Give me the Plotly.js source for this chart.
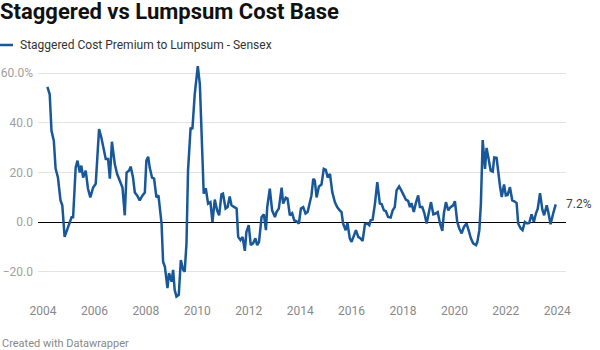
<!DOCTYPE html>
<html>
<head>
<meta charset="utf-8">
<script src="https://cdn.plot.ly/plotly-3.0.1.min.js"></script>
<style>
  html, body { margin: 0; padding: 0; background: #fff; }
  #chart { width: 600px; height: 350px; }
</style>
</head>
<body>
<div id="chart"></div>
<script>
// Decimal-year positions of the traced monthly observations
const years = [
  2004.17, 2004.26, 2004.33, 2004.42, 2004.49, 2004.58, 2004.68, 2004.75, 2004.84, 2004.91,
  2005.04, 2005.11, 2005.17, 2005.27, 2005.34, 2005.43, 2005.49, 2005.56, 2005.66, 2005.75,
  2005.84, 2005.95, 2006.05, 2006.14, 2006.18, 2006.27, 2006.36, 2006.44, 2006.53, 2006.60,
  2006.68, 2006.79, 2006.88, 2006.98, 2007.09, 2007.18, 2007.25, 2007.35, 2007.41, 2007.50,
  2007.57, 2007.66, 2007.76, 2007.87, 2007.96, 2008.02, 2008.09, 2008.15, 2008.24, 2008.32,
  2008.41, 2008.49, 2008.54, 2008.61, 2008.67, 2008.74, 2008.84, 2008.90, 2009.00, 2009.06,
  2009.12, 2009.19, 2009.28, 2009.36, 2009.45, 2009.51, 2009.58, 2009.64, 2009.74, 2009.81,
  2009.90, 2010.02, 2010.10, 2010.16, 2010.25, 2010.33, 2010.42, 2010.51, 2010.59, 2010.68,
  2010.77, 2010.85, 2010.94, 2011.00, 2011.10, 2011.18, 2011.26, 2011.33, 2011.42, 2011.53,
  2011.59, 2011.68, 2011.76, 2011.85, 2011.91, 2012.00, 2012.08, 2012.17, 2012.26, 2012.33,
  2012.40, 2012.50, 2012.59, 2012.67, 2012.72, 2012.82, 2012.91, 2013.02, 2013.08, 2013.17,
  2013.28, 2013.34, 2013.44, 2013.51, 2013.60, 2013.69, 2013.77, 2013.86, 2013.95, 2014.03,
  2014.12, 2014.21, 2014.29, 2014.38, 2014.44, 2014.51, 2014.57, 2014.64, 2014.73, 2014.83,
  2014.92, 2015.00, 2015.07, 2015.16, 2015.25, 2015.35, 2015.44, 2015.54, 2015.61, 2015.67,
  2015.77, 2015.84, 2015.93, 2016.00, 2016.09, 2016.17, 2016.26, 2016.35, 2016.43, 2016.52,
  2016.61, 2016.69, 2016.74, 2016.82, 2016.91, 2017.00, 2017.10, 2017.17, 2017.26, 2017.33,
  2017.42, 2017.52, 2017.60, 2017.68, 2017.75, 2017.85, 2017.95, 2018.04, 2018.11, 2018.20,
  2018.27, 2018.33, 2018.42, 2018.50, 2018.59, 2018.66, 2018.75, 2018.83, 2018.92, 2019.01,
  2019.09, 2019.18, 2019.27, 2019.35, 2019.44, 2019.53, 2019.59, 2019.67, 2019.76, 2019.85,
  2019.95, 2020.02, 2020.11, 2020.19, 2020.28, 2020.37, 2020.47, 2020.56, 2020.64, 2020.73,
  2020.84, 2020.89, 2020.97, 2021.03, 2021.10, 2021.19, 2021.25, 2021.32, 2021.41, 2021.49,
  2021.55, 2021.64, 2021.70, 2021.77, 2021.84, 2021.93, 2022.00, 2022.07, 2022.16, 2022.25,
  2022.33, 2022.42, 2022.48, 2022.58, 2022.65, 2022.74, 2022.83, 2022.91, 2023.00, 2023.09,
  2023.17, 2023.24, 2023.33, 2023.42, 2023.49, 2023.59, 2023.65, 2023.74, 2023.84, 2023.94
];

// Staggered cost premium to lumpsum (%)
const premium = [
  54.5, 51.5, 36.8, 32.8, 21.6, 18.0, 8.8, 6.8, -5.9, -3.9,
  -0.5, 2.0, 2.0, 22.0, 24.8, 20.0, 22.8, 18.0, 20.8, 13.5,
  10.0, 14.0, 15.5, 28.8, 37.5, 34.0, 28.8, 25.5, 25.5, 17.5,
  32.4, 23.5, 19.5, 16.8, 14.0, 2.8, 20.0, 20.8, 22.4, 18.0,
  12.0, 10.8, 8.8, 10.8, 12.0, 24.8, 26.4, 22.0, 18.0, 17.6,
  10.0, 10.8, 6.0, -0.5, -15.9, -17.9, -26.5, -20.5, -23.9, -19.2,
  -27.2, -29.9, -29.2, -15.2, -19.2, -19.9, -8.5, 20.8, 38.1, 37.5,
  51.5, 62.8, 55.5, 39.5, 11.5, 13.7, 7.5, 8.1, 0.1, 9.1,
  4.8, 2.8, 11.2, 11.5, 5.5, 6.1, 10.4, 6.8, 6.1, 5.5,
  -5.9, -7.2, -5.9, -11.5, -3.9, -1.2, -9.2, -8.5, -6.5, -9.2,
  -8.0, 2.1, 3.2, -3.2, 6.1, 13.5, 4.8, 2.1, 4.1, 5.5,
  13.9, 7.5, 9.9, 9.5, 2.8, 3.6, 0.8, 0.4, -0.5, 5.5,
  6.1, 3.5, 4.1, 8.1, 10.8, 17.5, 16.8, 10.0, 14.4, 15.2,
  21.5, 21.1, 18.0, 19.5, 12.1, 8.1, 6.1, 4.8, 4.1, -0.5,
  -3.2, -0.3, -6.5, -7.9, -5.2, -3.2, -5.9, -6.5, -7.5, -0.8,
  -0.5, -1.2, 0.8, 1.1, 7.5, 16.1, 7.5, 7.3, 4.8, 4.5,
  2.1, 1.9, 4.8, 6.1, 12.8, 14.4, 12.5, 10.8, 9.1, 8.6,
  6.1, 7.7, 4.1, 7.7, 10.8, 6.1, 6.1, 3.7, -0.5, 4.1,
  8.1, 3.2, 3.5, 4.1, -0.5, -3.5, 3.5, 8.1, 4.8, 6.1,
  6.8, 8.5, 0.1, -2.5, -4.5, -1.9, -0.5, -3.5, -6.5, -8.5,
  -9.2, -8.0, -3.2, 7.5, 33.1, 21.5, 29.9, 26.1, 20.8, 20.4,
  26.1, 25.9, 19.5, 14.8, 10.1, 15.2, 10.8, 11.0, 14.1, 8.8,
  8.4, 7.7, -0.5, -2.5, -3.2, 0.1, -0.5, -0.3, 3.2, 0.1,
  3.5, 5.5, 11.7, 5.1, 2.8, 6.8, 4.1, -0.8, 3.5, 7.2
];

const seriesName = "Staggered Cost Premium to Lumpsum - Sensex";
const xTickVals = [2004, 2006, 2008, 2010, 2012, 2014, 2016, 2018, 2020, 2022, 2024];
const xTickText = ["2004", "2006", "2008", "2010", "2012", "2014", "2016", "2018", "2020", "2022", "2024"];
const yTickVals = [60, 40, 20, 0, -20];
const yTickText = ["60.0%", "40.0", "20.0", "0.0", "\u221220.0"];

const lineColor = "#18579a";
const FONT = "Roboto, 'Noto Sans', Arial, sans-serif";

const W = 600, H = 350;
const M = { l: 38, r: 34, t: 62, b: 50 };
const plotW = W - M.l - M.r, plotH = H - M.t - M.b;
const px = x => (x - M.l) / plotW;      // pixel -> paper x
const py = y => (H - M.b - y) / plotH;  // pixel -> paper y

const lastX = years[years.length - 1];
const lastY = premium[premium.length - 1];

const trace = {
  x: years,
  y: premium,
  type: "scatter",
  mode: "lines",
  name: seriesName,
  line: { color: lineColor, width: 2.5 },
  hoverinfo: "skip"
};

const layout = {
  width: W, height: H,
  margin: M,
  paper_bgcolor: "#ffffff",
  plot_bgcolor: "#ffffff",
  showlegend: false,
  font: { family: FONT, color: "#333" },
  title: {
    text: "<b>Staggered vs Lumpsum Cost Base</b>",
    font: { family: FONT, size: 22, color: "#111" },
    xref: "container", yref: "container",
    x: 0, xanchor: "left",
    y: 1 - 4 / H, yanchor: "top",
    pad: { l: 0, t: 0, r: 0, b: 0 }
  },
  xaxis: {
    type: "linear",
    range: [2003.805, 2024.34],
    tickvals: xTickVals,
    ticktext: xTickText,
    showgrid: false,
    zeroline: false,
    showline: false,
    ticks: "",
    ticklabelstandoff: 2,
    tickfont: { family: FONT, size: 12, color: "#888" },
    fixedrange: true
  },
  yaxis: {
    range: [-31.3, 64.5],
    tickvals: yTickVals,
    ticktext: yTickText,
    showgrid: true,
    gridcolor: "#e3e3e3",
    gridwidth: 1,
    zeroline: true,
    zerolinecolor: "#000000",
    zerolinewidth: 1,
    showline: false,
    ticks: "",
    ticklabelstandoff: 4,
    tickfont: { family: FONT, size: 12, color: "#a0a0a0" },
    fixedrange: true
  },
  shapes: [
    {
      type: "line", xref: "paper", yref: "paper",
      x0: px(0), x1: px(13), y0: py(45), y1: py(45),
      line: { color: lineColor, width: 2.5 }
    }
  ],
  annotations: [
    {
      text: seriesName,
      xref: "paper", yref: "paper",
      x: px(18), y: py(45),
      xanchor: "left", yanchor: "middle",
      showarrow: false,
      font: { family: FONT, size: 12, color: "#333" }
    },
    {
      text: lastY.toFixed(1) + "%",
      xref: "x", yref: "y",
      x: lastX, y: lastY,
      xanchor: "left", yanchor: "middle",
      xshift: 8,
      showarrow: false,
      font: { family: FONT, size: 12, color: "#444" }
    },
    {
      text: "Created with Datawrapper",
      xref: "paper", yref: "paper",
      x: px(0), y: py(343),
      xanchor: "left", yanchor: "middle",
      showarrow: false,
      font: { family: FONT, size: 11, color: "#888" }
    }
  ]
};

Plotly.newPlot("chart", [trace], layout, { displayModeBar: false, staticPlot: true });
</script>
</body>
</html>
